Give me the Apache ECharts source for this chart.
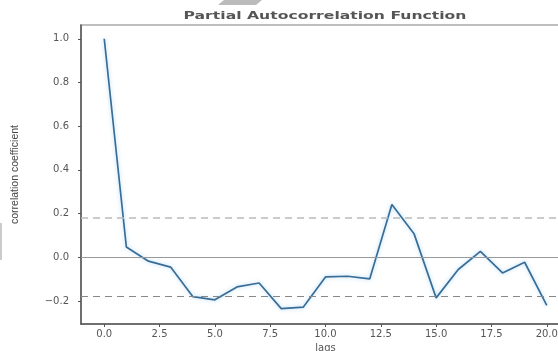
<!DOCTYPE html>
<html><head><meta charset="utf-8">
<script src="https://cdn.jsdelivr.net/npm/echarts@6/dist/echarts.min.js"></script>
<style>html,body{margin:0;padding:0;background:#fff}#c{width:558px;height:351px}</style>
</head><body><div id="c"></div>
<script>
const lags = [0,1,2,3,4,5,6,7,8,9,10,11,12,13,14,15,16,17,18,19,20];
const pacf = [1.0,0.047,-0.018,-0.045,-0.18,-0.195,-0.136,-0.118,-0.235,-0.228,-0.09,-0.087,-0.099,0.241,0.108,-0.186,-0.056,0.027,-0.072,-0.023,-0.22];
const confUpper = 0.185;
const confLower = -0.177;
const xTicks = [0,2.5,5,7.5,10,12.5,15,17.5,20];
const yTicks = [-0.2,0,0.2,0.4,0.6,0.8,1.0];
const titleText = 'Partial Autocorrelation Function';
const xLabel = 'lags';
const yLabel = 'correlation coefficient';

const chart = echarts.init(document.getElementById('c'), null, {renderer:'canvas'});
const fmt = v => (v < 0 ? '\u2212' : '') + Math.abs(v).toFixed(1);
chart.setOption({
  animation:false,
  grid:{left:81, top:25, width:489, height:299, outerBoundsMode:'none', containLabel:false,
    show:true, borderColor:'#aaa', borderWidth:1.5},
  xAxis:{type:'value', min:-1.05, max:21.05,
    name:xLabel, nameLocation:'middle', nameGap:14,
    nameTextStyle:{fontFamily:'DejaVu Sans', fontSize:10, color:'#555'},
    axisLine:{show:true, onZero:false, lineStyle:{color:'#555', width:1.5}},
    axisTick:{show:true, customValues:xTicks, length:3, lineStyle:{color:'#555'}},
    axisLabel:{customValues:xTicks, margin:5, formatter:v=>fmt(v), fontFamily:'DejaVu Sans', fontSize:10, color:'#555'},
    splitLine:{show:false}},
  yAxis:{type:'value', min:-0.3056, max:1.063,
    name:yLabel, nameLocation:'middle', nameGap:60, nameRotate:90,
    nameTextStyle:{fontFamily:'Liberation Sans Narrow, Liberation Sans', fontSize:10.5, color:'#444'},
    axisLine:{show:true, onZero:false, lineStyle:{color:'#555', width:1.5}},
    axisTick:{show:true, customValues:yTicks, length:3, lineStyle:{color:'#555'}},
    axisLabel:{customValues:yTicks, margin:12, formatter:v=>fmt(v), fontFamily:'DejaVu Sans', fontSize:10, color:'#555'},
    splitLine:{show:false}},
  series:[{
    type:'line', data:lags.map((l,i)=>[l,pacf[i]]), symbol:'none',
    lineStyle:{color:'#3a6d96', width:1.7, shadowBlur:4, shadowColor:'rgba(120,190,240,0.6)'},
    markLine:{silent:true, symbol:'none', label:{show:false},
      data:[
        {yAxis:0, lineStyle:{color:'#999', type:'solid', width:1.2}},
        {yAxis:confUpper, lineStyle:{color:'#bbb', type:[7,5], width:1.5}},
        {yAxis:confLower, lineStyle:{color:'#888', type:[7,5], width:1.2}}
      ]}
  }],
  graphic:[
    {type:'text', x:325, y:16, scaleX:1.42, scaleY:1, originX:0, originY:0,
      style:{text:titleText, fontFamily:'DejaVu Sans', fontSize:11, fontWeight:'bold', fill:'#555',
        textAlign:'center', textVerticalAlign:'middle'}},
    {type:'line', shape:{x1:1, y1:223, x2:1, y2:260}, style:{stroke:'#999', lineWidth:1}},
    {type:'polygon', shape:{points:[[224,0],[262,0],[256,5],[218,5]]}, style:{fill:'#bbb'}}
  ]
});
</script></body></html>
